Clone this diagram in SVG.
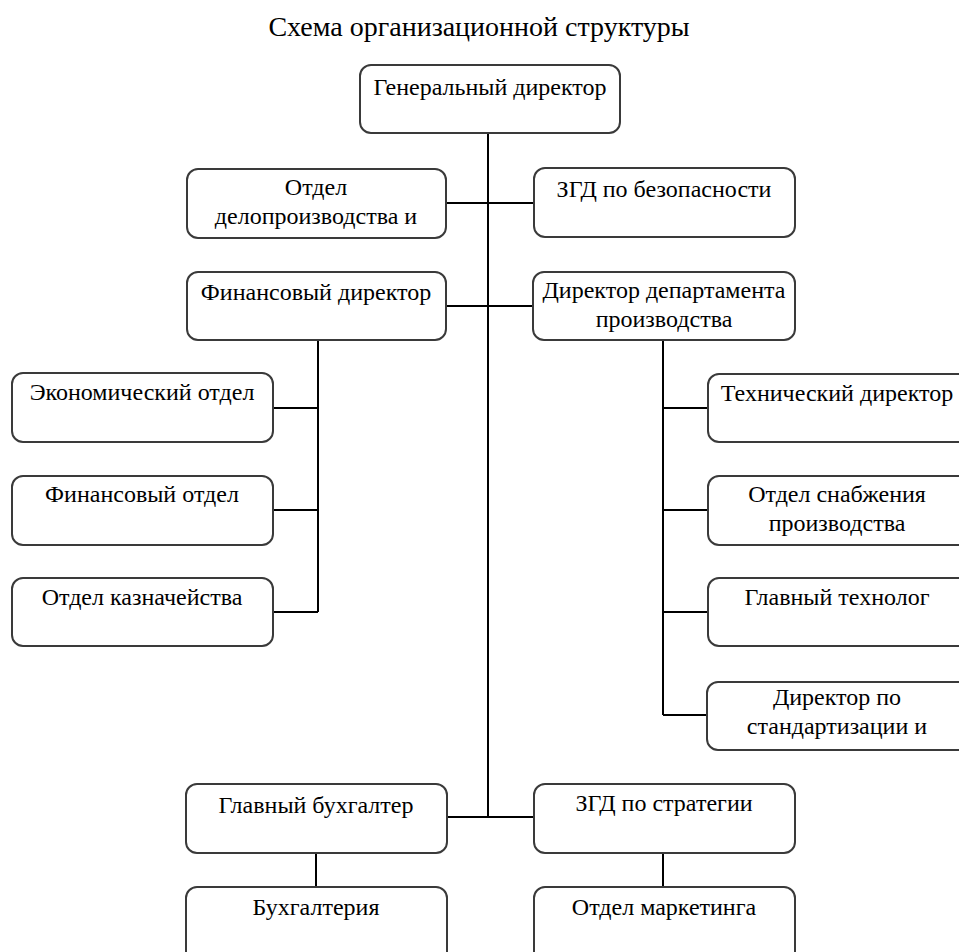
<svg xmlns="http://www.w3.org/2000/svg" width="959" height="952" viewBox="0 0 959 952">
<style>
.box{fill:#fff;stroke:#3a3a3a;stroke-width:2}
.t{font-family:'Liberation Serif','DejaVu Serif',serif;font-size:24px;fill:#000;text-anchor:middle}
.title{font-family:'Liberation Serif','DejaVu Serif',serif;font-size:28px;fill:#000;text-anchor:middle}
.c{stroke:#000;stroke-width:2;fill:none}
</style>
<rect width="959" height="952" fill="#fff"/>
<text class="title" x="479" y="36">Схема организационной структуры</text>
<g id="connectors">
<path class="c" d="M488 133V817"/>
<path class="c" d="M446 203H534"/>
<path class="c" d="M446 306H534"/>
<path class="c" d="M447 817H534"/>
<path class="c" d="M318 340V612"/>
<path class="c" d="M273 408H318M273 510H318M273 612H318"/>
<path class="c" d="M663 340V715"/>
<path class="c" d="M663 408H708M663 510H708M663 612H708M663 715H708"/>
<path class="c" d="M316 853V887"/>
<path class="c" d="M663 853V887"/>
</g>
<g id="n_gd"><rect class="box" x="360" y="65" width="260" height="68" rx="11"/><text class="t" x="490" y="95">Генеральный директор</text></g>
<g id="n_delo"><rect class="box" x="187" y="169" width="259" height="69" rx="11"/><text class="t" x="316" y="195">Отдел</text><text class="t" x="316" y="224">делопроизводства и</text></g>
<g id="n_bez"><rect class="box" x="534" y="168" width="261" height="69" rx="11"/><text class="t" x="664" y="197">ЗГД по безопасности</text></g>
<g id="n_fd"><rect class="box" x="187" y="272" width="259" height="68" rx="11"/><text class="t" x="316" y="300">Финансовый директор</text></g>
<g id="n_ddp"><rect class="box" x="533" y="272" width="262" height="68" rx="11"/><text class="t" x="664" y="298">Директор департамента</text><text class="t" x="664" y="327">производства</text></g>
<g id="n_eco"><rect class="box" x="12" y="373" width="261" height="69" rx="11"/><text class="t" x="142" y="400">Экономический отдел</text></g>
<g id="n_fo"><rect class="box" x="12" y="476" width="261" height="69" rx="11"/><text class="t" x="142" y="502">Финансовый отдел</text></g>
<g id="n_kaz"><rect class="box" x="12" y="578" width="261" height="68" rx="11"/><text class="t" x="142" y="605">Отдел казначейства</text></g>
<g id="n_tech"><rect class="box" x="708" y="374" width="262" height="68" rx="11"/><text class="t" x="837" y="401">Технический директор</text></g>
<g id="n_snab"><rect class="box" x="708" y="476" width="262" height="69" rx="11"/><text class="t" x="837" y="502">Отдел снабжения</text><text class="t" x="837" y="531">производства</text></g>
<g id="n_tehn"><rect class="box" x="708" y="578" width="262" height="68" rx="11"/><text class="t" x="837" y="605">Главный технолог</text></g>
<g id="n_std"><rect class="box" x="707" y="682" width="263" height="68" rx="11"/><text class="t" x="837" y="705">Директор по</text><text class="t" x="837" y="734">стандартизации и</text></g>
<g id="n_gb"><rect class="box" x="186" y="784" width="261" height="69" rx="11"/><text class="t" x="316" y="813">Главный бухгалтер</text></g>
<g id="n_strat"><rect class="box" x="534" y="784" width="261" height="69" rx="11"/><text class="t" x="664" y="811">ЗГД по стратегии</text></g>
<g id="n_buh"><rect class="box" x="186" y="887" width="261" height="75" rx="11"/><text class="t" x="316" y="915">Бухгалтерия</text></g>
<g id="n_mark"><rect class="box" x="534" y="887" width="261" height="75" rx="11"/><text class="t" x="664" y="915">Отдел маркетинга</text></g>
</svg>
